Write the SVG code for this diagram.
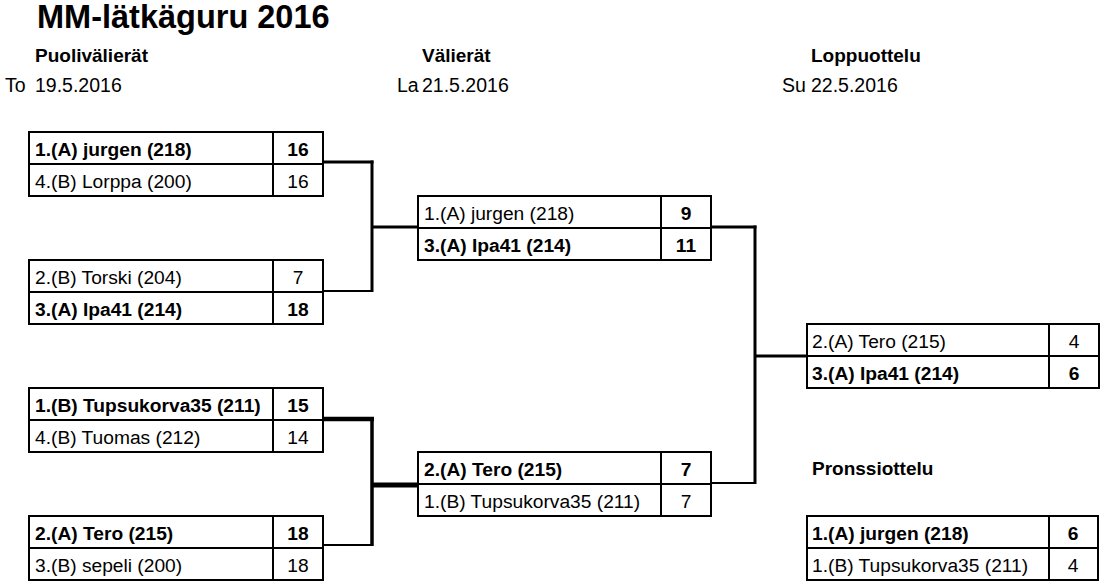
<svg xmlns="http://www.w3.org/2000/svg" width="1105" height="585" viewBox="0 0 1105 585">
<style>
text{font-family:"Liberation Sans",Arial,sans-serif;fill:#000;}
.t{font-size:32.5px;font-weight:bold;}
.h{font-size:19px;font-weight:bold;}
.d{font-size:19.5px;}
.c{font-size:19.2px;}
.b{font-weight:bold;}
.s{text-anchor:middle;}
.box{fill:#fff;stroke:#000;stroke-width:2;}
.ln{stroke:#000;stroke-width:2;}
.con line{stroke:#000;stroke-linecap:butt;}
</style>
<rect width="1105" height="585" fill="#fff"/>
<text class="t" x="37" y="28">MM-lätkäguru 2016</text>
<text class="h" x="35" y="62">Puolivälierät</text>
<text class="h" x="422" y="62">Välierät</text>
<text class="h" x="811" y="62">Loppuottelu</text>
<text class="d" x="5" y="92">To</text>
<text class="d" x="35" y="92">19.5.2016</text>
<text class="d" x="397" y="92">La</text>
<text class="d" x="422" y="92">21.5.2016</text>
<text class="d" x="782" y="92">Su</text>
<text class="d" x="811" y="92">22.5.2016</text>
<text class="h" x="812" y="475">Pronssiottelu</text>

<g id="connectors" class="con">
<line x1="323" y1="162" x2="373.5" y2="162" stroke-width="3"/>
<line x1="372" y1="160.5" x2="372" y2="292" stroke-width="3"/>
<line x1="323" y1="291" x2="372" y2="291" stroke-width="2"/>
<line x1="372" y1="227" x2="418" y2="227" stroke-width="3"/>
<line x1="323" y1="419" x2="374" y2="419" stroke-width="4.5"/>
<line x1="372" y1="417" x2="372" y2="546" stroke-width="3.5"/>
<line x1="323" y1="545" x2="372" y2="545" stroke-width="2"/>
<line x1="372" y1="485" x2="418" y2="485" stroke-width="5"/>
<line x1="711" y1="227" x2="756.5" y2="227" stroke-width="3"/>
<line x1="755" y1="225.5" x2="755" y2="484" stroke-width="3"/>
<line x1="711" y1="483" x2="755" y2="483" stroke-width="2"/>
<line x1="755" y1="356" x2="807" y2="356" stroke-width="3"/>
</g>

<g id="qf1">
<rect class="box" x="29" y="132" width="294" height="64"/>
<line class="ln" x1="29" y1="164" x2="323" y2="164"/>
<line class="ln" x1="273" y1="132" x2="273" y2="196"/>
<text class="c b" x="35" y="156">1.(A) jurgen (218)</text>
<text class="c b s" x="298" y="156">16</text>
<text class="c" x="35" y="188">4.(B) Lorppa (200)</text>
<text class="c s" x="298" y="188">16</text>
</g>
<g id="qf2">
<rect class="box" x="29" y="260" width="294" height="64"/>
<line class="ln" x1="29" y1="292" x2="323" y2="292"/>
<line class="ln" x1="273" y1="260" x2="273" y2="324"/>
<text class="c" x="35" y="284">2.(B) Torski (204)</text>
<text class="c s" x="298" y="284">7</text>
<text class="c b" x="35" y="316">3.(A) Ipa41 (214)</text>
<text class="c b s" x="298" y="316">18</text>
</g>
<g id="qf3">
<rect class="box" x="29" y="388" width="294" height="64"/>
<line class="ln" x1="29" y1="420" x2="323" y2="420"/>
<line class="ln" x1="273" y1="388" x2="273" y2="452"/>
<text class="c b" x="35" y="412">1.(B) Tupsukorva35 (211)</text>
<text class="c b s" x="298" y="412">15</text>
<text class="c" x="35" y="444">4.(B) Tuomas (212)</text>
<text class="c s" x="298" y="444">14</text>
</g>
<g id="qf4">
<rect class="box" x="29" y="516" width="294" height="64"/>
<line class="ln" x1="29" y1="548" x2="323" y2="548"/>
<line class="ln" x1="273" y1="516" x2="273" y2="580"/>
<text class="c b" x="35" y="540">2.(A) Tero (215)</text>
<text class="c b s" x="298" y="540">18</text>
<text class="c" x="35" y="572">3.(B) sepeli (200)</text>
<text class="c s" x="298" y="572">18</text>
</g>
<g id="sf1">
<rect class="box" x="418" y="196" width="293" height="64"/>
<line class="ln" x1="418" y1="228" x2="711" y2="228"/>
<line class="ln" x1="661" y1="196" x2="661" y2="260"/>
<text class="c" x="424" y="220">1.(A) jurgen (218)</text>
<text class="c b s" x="686" y="220">9</text>
<text class="c b" x="424" y="252">3.(A) Ipa41 (214)</text>
<text class="c b s" x="686" y="252">11</text>
</g>
<g id="sf2">
<rect class="box" x="418" y="452" width="293" height="64"/>
<line class="ln" x1="418" y1="484" x2="711" y2="484"/>
<line class="ln" x1="661" y1="452" x2="661" y2="516"/>
<text class="c b" x="424" y="476">2.(A) Tero (215)</text>
<text class="c b s" x="686" y="476">7</text>
<text class="c" x="424" y="508">1.(B) Tupsukorva35 (211)</text>
<text class="c s" x="686" y="508">7</text>
</g>
<g id="final">
<rect class="box" x="807" y="324" width="292" height="64"/>
<line class="ln" x1="807" y1="356" x2="1099" y2="356"/>
<line class="ln" x1="1049" y1="324" x2="1049" y2="388"/>
<text class="c" x="812" y="348">2.(A) Tero (215)</text>
<text class="c s" x="1074" y="348">4</text>
<text class="c b" x="812" y="380">3.(A) Ipa41 (214)</text>
<text class="c b s" x="1074" y="380">6</text>
</g>
<g id="bronze">
<rect class="box" x="807" y="516" width="291" height="64"/>
<line class="ln" x1="807" y1="548" x2="1098" y2="548"/>
<line class="ln" x1="1049" y1="516" x2="1049" y2="580"/>
<text class="c b" x="812" y="540">1.(A) jurgen (218)</text>
<text class="c b s" x="1073" y="540">6</text>
<text class="c" x="812" y="572">1.(B) Tupsukorva35 (211)</text>
<text class="c s" x="1073" y="572">4</text>
</g>
</svg>
